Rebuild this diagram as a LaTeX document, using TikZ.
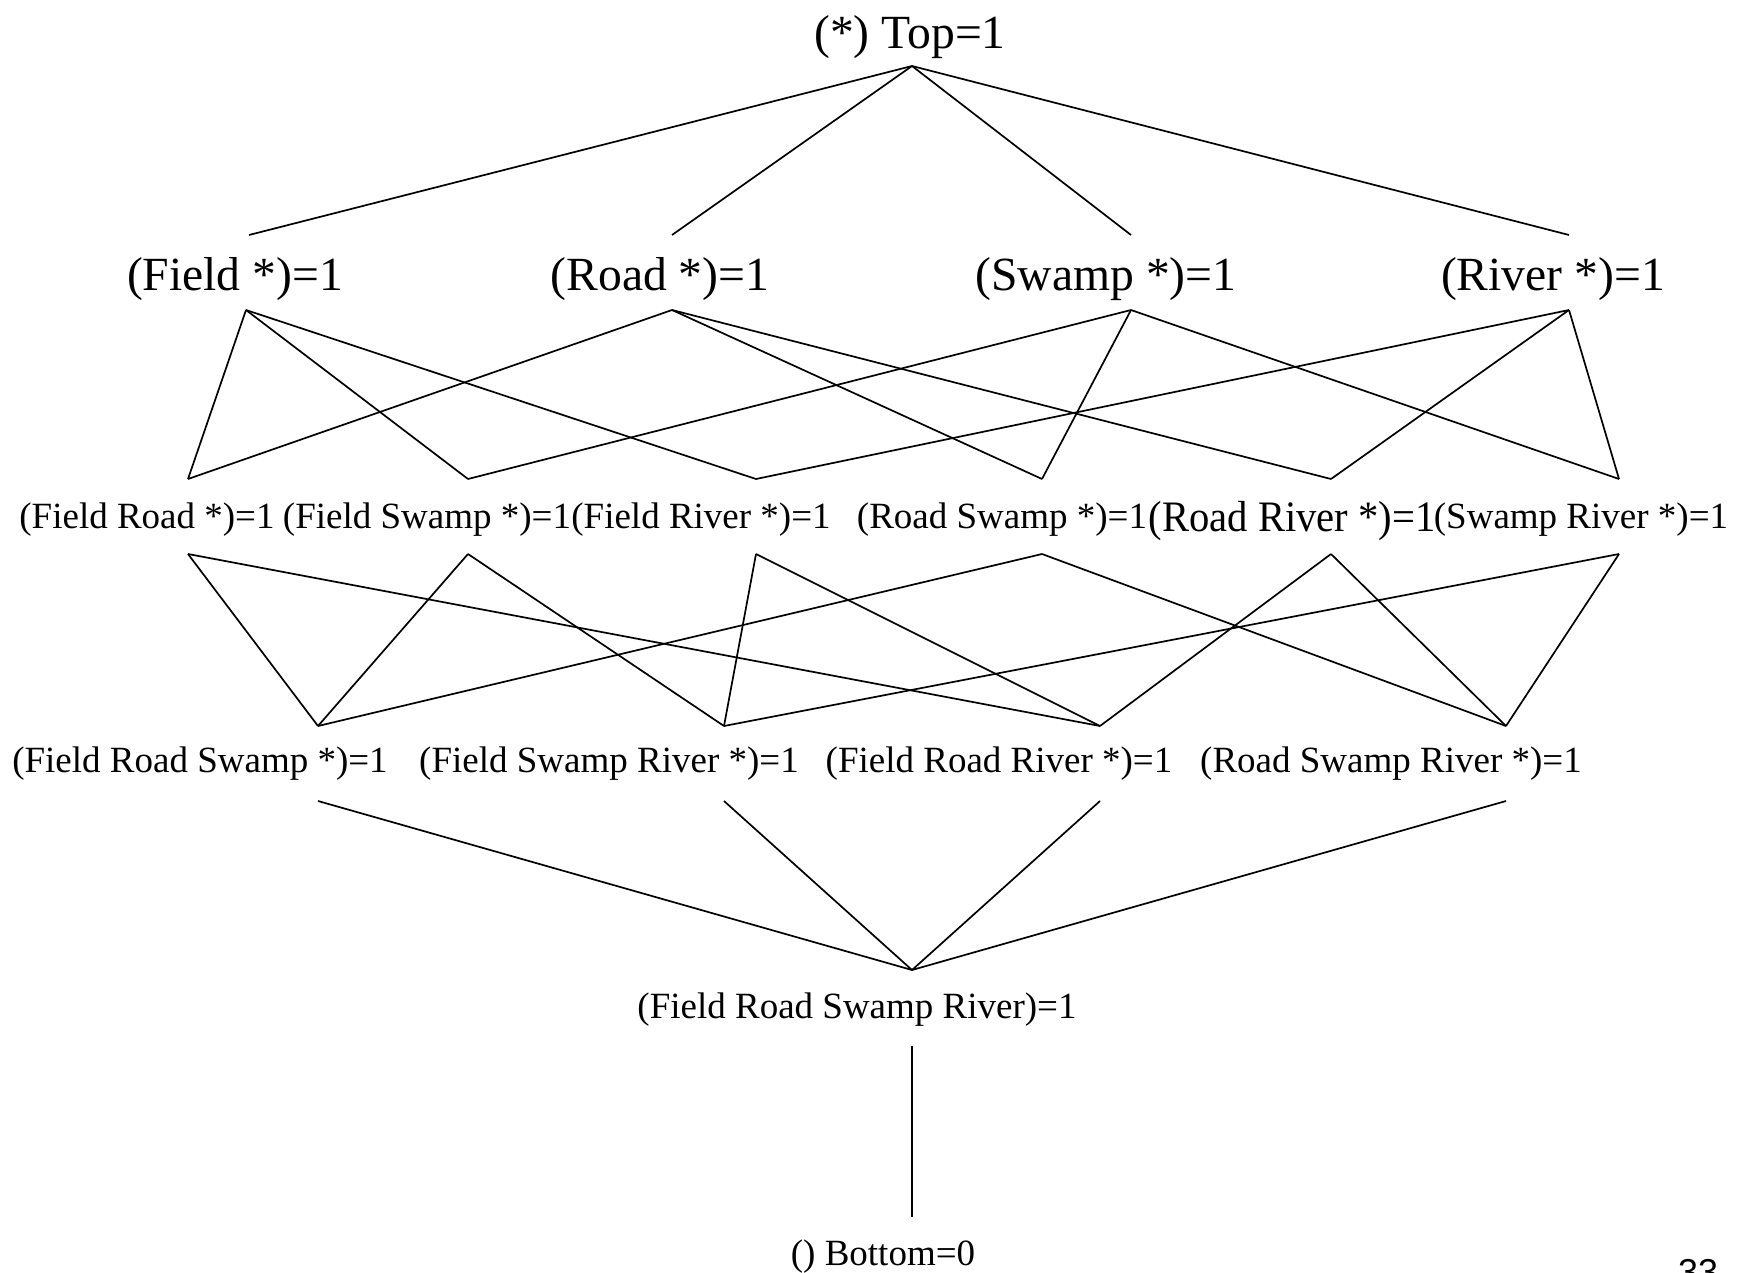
\documentclass[tikz,border=0pt]{standalone}
\usepackage{fontspec}
\setmainfont{Liberation Serif}
\setsansfont{Liberation Sans}
\begin{document}
\begin{tikzpicture}[x=0.5pt,y=-0.5pt,
  big/.style={inner sep=0pt,font=\fontsize{23.8}{28}\selectfont},
  small/.style={inner sep=0pt,font=\fontsize{18.5}{22}\selectfont},
  edge/.style={line width=0.85pt}]
\useasboundingbox (0,0) rectangle (1739,1273);

% labels
\node[big] (top) at (910,37) {(*) Top=1};
\node[big] (F) at (235,279) {(Field *)=1};
\node[big] (R) at (660,279) {(Road *)=1};
\node[big] (S) at (1106,279) {(Swamp *)=1};
\node[big] (V) at (1553,279) {(River *)=1};

\node[small] (FR) at (147,520) {(Field Road *)=1};
\node[small] (FS) at (427,520) {(Field Swamp *)=1};
\node[small] (FV) at (701,520) {(Field River *)=1};
\node[small] (RS) at (1002,520) {(Road Swamp *)=1};
\node[inner sep=0pt,font=\fontsize{20.3}{24}\selectfont,yscale=1.07] (RV) at (1292,521) {(Road River *)=1};
\node[small] (SV) at (1581,520) {(Swamp River *)=1};

\node[small] (FRS) at (200,764) {(Field Road Swamp *)=1};
\node[small] (FSV) at (609,764) {(Field Swamp River *)=1};
\node[small] (FRV) at (999,764) {(Field Road River *)=1};
\node[small] (RSV) at (1391,764) {(Road Swamp River *)=1};

\node[small] (all) at (857,1010) {(Field Road Swamp River)=1};
\node[small] (bot) at (883,1257) {() Bottom=0};
\node[inner sep=0pt,anchor=north,font=\sffamily\fontsize{18}{22}\selectfont] (pg) at (1698,1259) {33};

% connector end points
\coordinate (top-b) at (912,66);
\coordinate (F-t) at (249,235);  \coordinate (F-b) at (246,310);
\coordinate (R-t) at (672,235);  \coordinate (R-b) at (672,310);
\coordinate (S-t) at (1131,235); \coordinate (S-b) at (1131,310);
\coordinate (V-t) at (1569,235); \coordinate (V-b) at (1569,310);

\foreach \n/\x in {FR/188,FS/468,FV/756,RS/1042,RV/1331,SV/1619}{
  \coordinate (\n-t) at (\x,479);
  \coordinate (\n-b) at (\x,554);
}
\foreach \n/\x in {FRS/318,FSV/724,FRV/1100,RSV/1506}{
  \coordinate (\n-t) at (\x,726);
  \coordinate (\n-b) at (\x,801);
}
\coordinate (all-t) at (912,970);
\coordinate (all-b) at (912,1046);
\coordinate (bot-t) at (912,1217);

% top to singletons
\foreach \n in {F,R,S,V} \draw[edge] (top-b) -- (\n-t);

% singletons to pairs
\foreach \a/\b in {F/FR,F/FS,F/FV,R/FR,R/RS,R/RV,S/FS,S/RS,S/SV,V/FV,V/RV,V/SV}
  \draw[edge] (\a-b) -- (\b-t);

% pairs to triples
\foreach \a/\b in {FR/FRS,FR/FRV,FS/FRS,FS/FSV,FV/FSV,FV/FRV,RS/FRS,RS/RSV,RV/FRV,RV/RSV,SV/FSV,SV/RSV}
  \draw[edge] (\a-b) -- (\b-t);

% triples to the full set
\foreach \n in {FRS,FSV,FRV,RSV} \draw[edge] (\n-b) -- (all-t);

% full set to bottom
\draw[edge] (all-b) -- (bot-t);
\end{tikzpicture}
\end{document}
